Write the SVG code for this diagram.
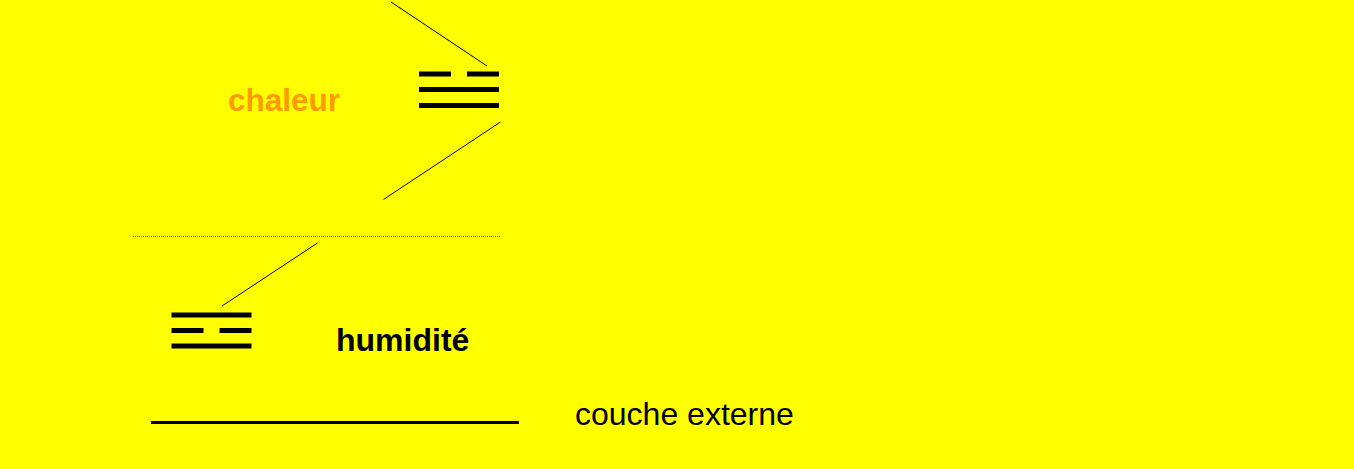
<svg xmlns="http://www.w3.org/2000/svg" width="1354" height="469" viewBox="0 0 1354 469">
<style>
.bar{stroke:#000;stroke-width:5;fill:none}
.thin{stroke:#000;stroke-width:1;fill:none}
.lbl{font-family:"Liberation Sans",Arial,sans-serif}
</style>
<rect x="0" y="0" width="1354" height="469" fill="#ffff00"/>
<g id="connectors">
<line class="thin" x1="391" y1="2" x2="487" y2="66"/>
<line class="thin" x1="500.5" y1="122" x2="383.5" y2="199.5"/>
<line x1="133" y1="236.5" x2="501" y2="236.5" stroke="#55552a" stroke-width="1" stroke-dasharray="1 1"/>
<line class="thin" x1="317.5" y1="243" x2="222" y2="306"/>
</g>
<g id="trigram-top">
<line class="bar" x1="419" y1="74" x2="451" y2="74"/>
<line class="bar" x1="467" y1="74" x2="499" y2="74"/>
<line class="bar" x1="419" y1="89.5" x2="499" y2="89.5"/>
<line class="bar" x1="419" y1="105.5" x2="499" y2="105.5"/>
</g>
<g id="trigram-bottom">
<line class="bar" x1="171.5" y1="315" x2="251.5" y2="315"/>
<line class="bar" x1="171.5" y1="330.5" x2="203.5" y2="330.5"/>
<line class="bar" x1="219.5" y1="330.5" x2="251.5" y2="330.5"/>
<line class="bar" x1="171.5" y1="346" x2="251.5" y2="346"/>
</g>
<g id="label-chaleur">
<text class="lbl" x="228" y="111" font-size="31.5" font-weight="bold" fill="#ff9900">chaleur</text>
</g>
<g id="label-humidite">
<text class="lbl" x="336" y="351" font-size="32" font-weight="bold" fill="#000">humidité</text>
</g>
<g id="couche-externe">
<line x1="151" y1="422.5" x2="519" y2="422.5" stroke="#000" stroke-width="3"/>
<text class="lbl" x="575" y="425" font-size="32" fill="#000">couche externe</text>
</g>
</svg>
